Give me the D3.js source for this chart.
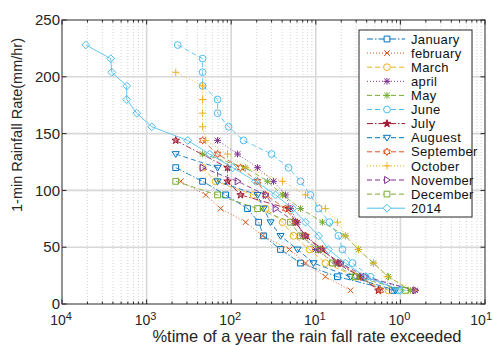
<!DOCTYPE html>
<html>
<head>
<meta charset="utf-8">
<script src="https://cdn.jsdelivr.net/npm/d3@7"></script>
<style>
  body { margin: 0; background: #fff; }
  svg { display: block; font-family: "Liberation Sans", Arial, sans-serif; }
</style>
</head>
<body>
<svg id="chart" width="493" height="345"></svg>
<script>
// rain rate levels (mm/hr), shared by every series
const rates = [228, 216, 204, 192, 180, 168, 156, 144, 132, 120, 108, 96, 84, 72, 60, 48, 36, 24, 12];
const _ = null;

// % of time exceeded, one value per rate level (null = no point)
const january  = [_, _, _, _, _, _, _, _, _, 2.21e-3, 4.59e-3, 8.59e-3, 0.0156, 0.0211, 0.0241, 0.0383, 0.066, 0.18, 0.805];
const february = [_, _, _, _, _, _, _, _, _, _, 2.53e-3, 4.99e-3, 7.5e-3, 0.0148, 0.0235, 0.0489, 0.0756, 0.13, 0.257];
const march    = [_, _, _, _, _, _, _, _, _, 4.59e-3, 6.54e-3, 0.0184, 0.0255, 0.0405, 0.0546, 0.0843, 0.13, 0.294, 0.722];
const april    = [_, _, _, _, _, _, _, 6.9e-3, 0.0119, 0.0205, 0.0317, 0.0439, 0.0502, 0.0608, 0.0697, 0.0991, 0.171, 0.337, 1.5];
const may      = [_, _, _, _, _, _, _, _, 4.59e-3, 0.0148, 0.0269, 0.0405, 0.066, 0.12, 0.224, 0.319, 0.48, 0.722, 1.31];
const june     = [2.33e-3, 4.59e-3, 4.59e-3, 4.59e-3, 6.9e-3, 6.9e-3, 9.31e-3, 0.014, 0.03, 0.0476, 0.066, 0.0865, 0.108, 0.145, 0.185, 0.207, 0.271, 0.442, 0.947];
const july     = [_, _, _, _, _, _, _, 2.21e-3, _, 9.06e-3, 9.06e-3, 0.0129, 0.0476, 0.0576, 0.0756, 0.12, 0.18, 0.337, 0.55];
const august   = [_, _, _, _, _, _, _, _, 2.21e-3, 6.9e-3, 6.9e-3, 0.0205, 0.0241, 0.0292, 0.0383, 0.0608, 0.094, 0.257, 0.873];
const september= [_, _, _, _, _, _, _, 4.59e-3, 6.9e-3, 0.0129, 0.0205, 0.0255, 0.0439, 0.0576, 0.0756, 0.114, 0.196, 0.337, 0.58];
const october  = [_, _, 2.21e-3, 4.59e-3, 4.59e-3, 4.59e-3, 4.59e-3, 4.99e-3, 9.06e-3, 0.0148, 0.0405, 0.0756, 0.13, 0.18, 0.224, 0.319, 0.48, 0.703, 1.5];
const november = [_, _, _, _, _, _, _, _, _, 4.59e-3, 0.0119, 0.0255, 0.0334, 0.0576, 0.0756, 0.114, 0.196, 0.386, 1.5];
const december = [_, _, _, _, _, _, _, _, _, _, 2.21e-3, 6.9e-3, 0.0205, 0.0502, 0.066, 0.108, 0.157, 0.294, 1.15];
const year2014 = [1.91e-4, 3.77e-4, 3.87e-4, 5.82e-4, 5.82e-4, 7.64e-4, 1.15e-3, 3.06e-3, 5.56e-3, 0.0104, 0.0194, 0.0334, 0.0531, 0.0756, 0.108, 0.141, 0.224, 0.386, 1.0];

const seriesNames = ["January", "february", "March", "april", "May", "June", "July", "Auguest", "September", "October", "November", "December", "2014"];
const seriesValues = [january, february, march, april, may, june, july, august, september, october, november, december, year2014];

const xTickValues = [1e-4, 1e-3, 1e-2, 1e-1, 1, 10];
const xTickExp = ["4", "3", "2", "1", "0", "1"];   // as printed
const yTickValues = [0, 50, 100, 150, 200, 250];

// look of each series: colour, dash, marker
const styles = [
  { c: "#0072BD", dash: "6,2,1.5,2", m: "square" },
  { c: "#D95319", dash: "1,2", m: "x" },
  { c: "#EDB120", dash: "5,3", m: "circle" },
  { c: "#7E2F8E", dash: "1,2", m: "asterisk" },
  { c: "#77AC30", dash: "5,3", m: "asterisk" },
  { c: "#4DBEEE", dash: "5,3", m: "circle" },
  { c: "#A2142F", dash: "6,2,1.5,2", m: "pentagram" },
  { c: "#0072BD", dash: "5,3", m: "triDown" },
  { c: "#D95319", dash: "5,3", m: "hexagram" },
  { c: "#EDB120", dash: "1,2", m: "plus" },
  { c: "#7E2F8E", dash: "5,3", m: "triRight" },
  { c: "#77AC30", dash: "5,3", m: "square" },
  { c: "#4DBEEE", dash: null, m: "diamond" }
];

const margin = { top: 20, right: 8, bottom: 41, left: 62 };
const W = 493, H = 345;
const width = W - margin.left - margin.right;
const height = H - margin.top - margin.bottom;

const svg = d3.select("#chart");
const g = svg.append("g").attr("transform", `translate(${margin.left},${margin.top})`);

const x = d3.scaleLog().domain([1e-4, 10]).range([0, width]);
const y = d3.scaleLinear().domain([0, 250]).range([height, 0]);

// minor log positions
const minorX = [];
for (let e = -4; e < 1; e++) for (let k = 2; k <= 9; k++) minorX.push(k * Math.pow(10, e));

// grid
g.append("g").selectAll("line").data(minorX).join("line")
  .attr("x1", d => x(d)).attr("x2", d => x(d)).attr("y1", 0).attr("y2", height)
  .attr("stroke", "#c8c8c8").attr("stroke-width", 0.8).attr("stroke-dasharray", "1,2");
g.append("g").selectAll("line").data(xTickValues.slice(1, -1)).join("line")
  .attr("x1", d => x(d)).attr("x2", d => x(d)).attr("y1", 0).attr("y2", height)
  .attr("stroke", "#d8d8d8").attr("stroke-width", 1.6);
g.append("g").selectAll("line").data(yTickValues.slice(1, -1)).join("line")
  .attr("x1", 0).attr("x2", width).attr("y1", d => y(d)).attr("y2", d => y(d))
  .attr("stroke", "#d8d8d8").attr("stroke-width", 1.6);

// marker paths
function markerPath(type, r) {
  const p = d3.path();
  if (type === "square") { p.rect(-r * 0.85, -r * 0.85, r * 1.7, r * 1.7); }
  else if (type === "circle") { p.arc(0, 0, r, 0, 2 * Math.PI); }
  else if (type === "x") { const a = r * 0.85; p.moveTo(-a, -a); p.lineTo(a, a); p.moveTo(-a, a); p.lineTo(a, -a); }
  else if (type === "plus") { p.moveTo(-r * 1.1, 0); p.lineTo(r * 1.1, 0); p.moveTo(0, -r * 1.1); p.lineTo(0, r * 1.1); }
  else if (type === "asterisk") {
    const a = r * 0.8;
    p.moveTo(-r, 0); p.lineTo(r, 0); p.moveTo(0, -r); p.lineTo(0, r);
    p.moveTo(-a, -a); p.lineTo(a, a); p.moveTo(-a, a); p.lineTo(a, -a);
  }
  else if (type === "diamond") { p.moveTo(0, -r * 1.15); p.lineTo(r * 1.15, 0); p.lineTo(0, r * 1.15); p.lineTo(-r * 1.15, 0); p.closePath(); }
  else if (type === "triDown") { p.moveTo(-r * 1.05, -r * 0.7); p.lineTo(r * 1.05, -r * 0.7); p.lineTo(0, r * 1.0); p.closePath(); }
  else if (type === "triRight") { p.moveTo(-r * 0.7, -r * 1.05); p.lineTo(r * 1.0, 0); p.lineTo(-r * 0.7, r * 1.05); p.closePath(); }
  else if (type === "pentagram") {
    for (let i = 0; i < 10; i++) {
      const rr = i % 2 ? r * 0.45 : r * 1.15;
      const a = -Math.PI / 2 + i * Math.PI / 5;
      i ? p.lineTo(rr * Math.cos(a), rr * Math.sin(a)) : p.moveTo(rr * Math.cos(a), rr * Math.sin(a));
    }
    p.closePath();
  }
  else if (type === "hexagram") {
    for (let i = 0; i < 12; i++) {
      const rr = i % 2 ? r * 0.6 : r * 1.1;
      const a = -Math.PI / 2 + i * Math.PI / 6;
      i ? p.lineTo(rr * Math.cos(a), rr * Math.sin(a)) : p.moveTo(rr * Math.cos(a), rr * Math.sin(a));
    }
    p.closePath();
  }
  return p.toString();
}

const line = d3.line().defined(d => d.p != null).x(d => x(d.p)).y(d => y(d.r));
const clip = g.append("defs").append("clipPath").attr("id", "clip")
  .append("rect").attr("width", width).attr("height", height);
const plot = g.append("g").attr("clip-path", "url(#clip)");

seriesValues.forEach((vals, i) => {
  const st = styles[i];
  const pts = vals.map((p, j) => ({ p, r: rates[j] })).filter(d => d.p != null);
  plot.append("path").datum(pts).attr("d", line)
    .attr("fill", "none").attr("stroke", st.c).attr("stroke-width", 1)
    .attr("stroke-dasharray", st.dash).attr("opacity", 0.85);
  plot.append("g").selectAll("path").data(pts).join("path")
    .attr("transform", d => `translate(${x(d.p)},${y(d.r)})`)
    .attr("d", markerPath(st.m, 3.4))
    .attr("fill", st.m === "pentagram" ? st.c : "none")
    .attr("fill-opacity", 0.45)
    .attr("stroke", st.c).attr("stroke-width", 1);
});

// frame and ticks (inward, all sides)
const axisColor = "#262626";
g.append("rect").attr("width", width).attr("height", height)
  .attr("fill", "none").attr("stroke", axisColor).attr("stroke-width", 1);
const tk = g.append("g").attr("stroke", axisColor).attr("stroke-width", 1);
xTickValues.forEach(v => {
  tk.append("line").attr("x1", x(v)).attr("x2", x(v)).attr("y1", height).attr("y2", height - 4.5);
  tk.append("line").attr("x1", x(v)).attr("x2", x(v)).attr("y1", 0).attr("y2", 4.5);
});
minorX.forEach(v => {
  tk.append("line").attr("x1", x(v)).attr("x2", x(v)).attr("y1", height).attr("y2", height - 2.5);
  tk.append("line").attr("x1", x(v)).attr("x2", x(v)).attr("y1", 0).attr("y2", 2.5);
});
yTickValues.forEach(v => {
  tk.append("line").attr("x1", 0).attr("x2", 4.5).attr("y1", y(v)).attr("y2", y(v));
  tk.append("line").attr("x1", width).attr("x2", width - 4.5).attr("y1", y(v)).attr("y2", y(v));
});

// tick labels
g.append("g").selectAll("text").data(yTickValues).join("text")
  .attr("x", -2).attr("y", d => y(d)).attr("dy", "0.35em")
  .attr("text-anchor", "end").attr("font-size", 15).attr("fill", axisColor)
  .text(d => d);

const xl = g.append("g").selectAll("text").data(xTickValues).join("text")
  .attr("x", (d, i) => i === xTickValues.length - 1 ? W - margin.left - 1 : x(d) - 1)
  .attr("y", height + 21)
  .attr("text-anchor", (d, i) => i === xTickValues.length - 1 ? "end" : "middle")
  .attr("font-size", 14).attr("fill", axisColor);
xl.append("tspan").text("10");
xl.append("tspan").attr("font-size", 11).attr("dy", -5).text((d, i) => xTickExp[i]);

// axis titles
g.append("text").attr("x", 245).attr("y", height + 38)
  .attr("text-anchor", "middle").attr("font-size", 16.5).attr("fill", axisColor)
  .text("%time of a year the rain fall rate exceeded");
g.append("text").attr("transform", `translate(${-40},105) rotate(-90)`)
  .attr("text-anchor", "middle").attr("font-size", 14.5).attr("fill", axisColor)
  .text("1-min Rainfall Rate(mm/hr)");

// legend
const lg = svg.append("g").attr("transform", "translate(359,30)");
lg.append("rect").attr("width", 113).attr("height", 187)
  .attr("fill", "#fff").attr("stroke", axisColor).attr("stroke-width", 1);
seriesNames.forEach((name, i) => {
  const st = styles[i];
  const yy = 9 + i * 14.1;
  const row = lg.append("g").attr("transform", `translate(0,${yy})`);
  row.append("line").attr("x1", 8).attr("x2", 46).attr("y1", 0).attr("y2", 0)
    .attr("stroke", st.c).attr("stroke-width", 1).attr("stroke-dasharray", st.dash);
  row.append("path").attr("transform", "translate(28,0)")
    .attr("d", markerPath(st.m, 3.4))
    .attr("fill", st.m === "pentagram" ? st.c : "#fff")
    .attr("stroke", st.c).attr("stroke-width", 1);
  row.append("text").attr("x", 52).attr("dy", "0.36em")
    .attr("font-size", 13).attr("letter-spacing", 0.35).attr("fill", "#111").text(name);
});
</script>
</body>
</html>
